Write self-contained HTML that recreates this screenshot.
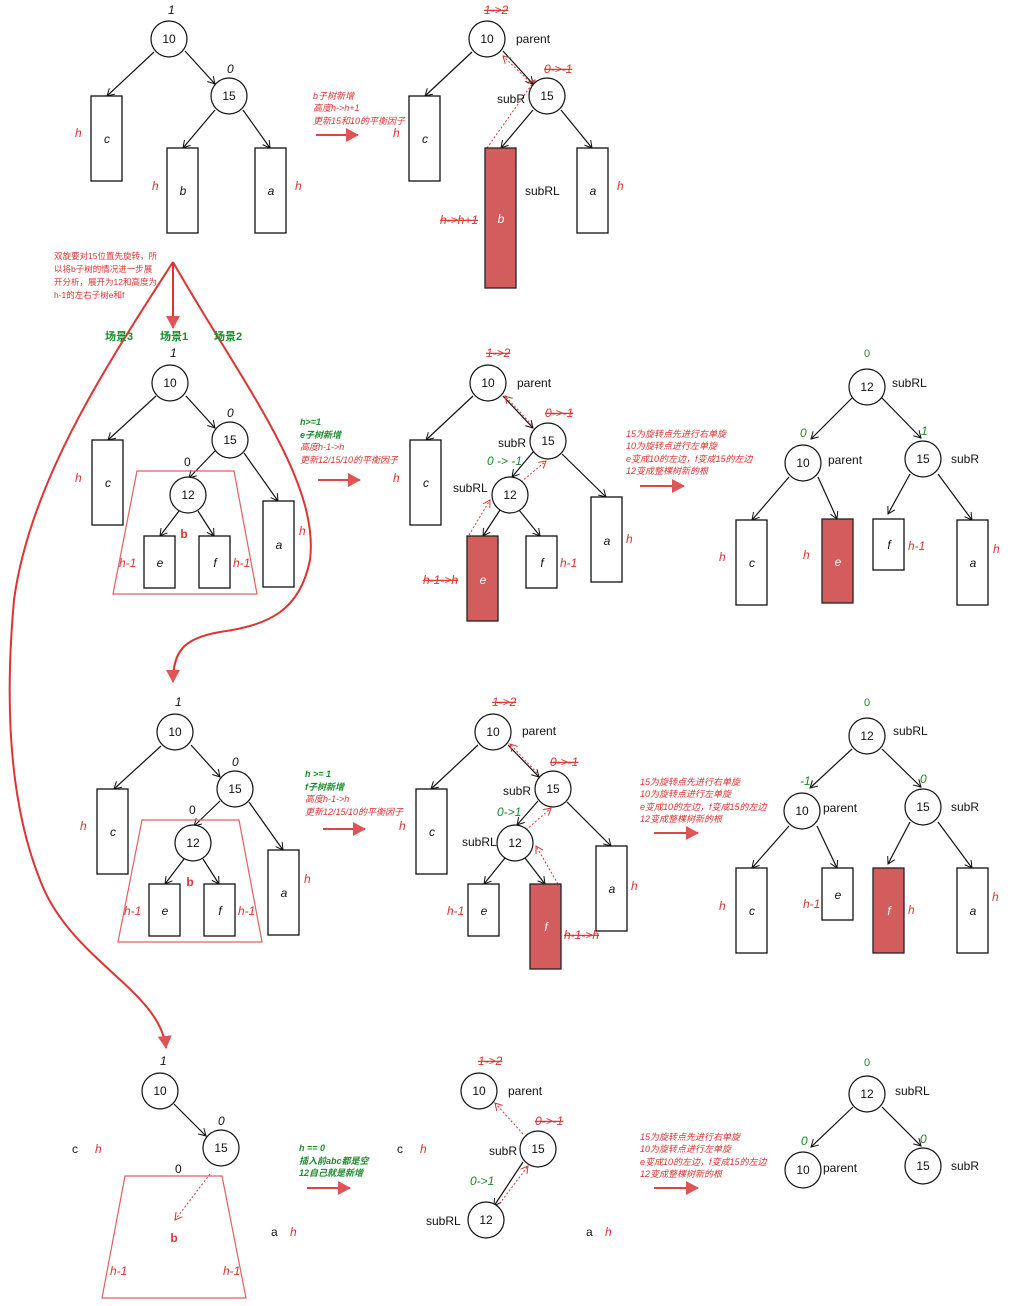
<!DOCTYPE html>
<html><head><meta charset="utf-8"><style>
html,body{margin:0;padding:0;background:#fff}
svg{display:block}
text{font-family:"Liberation Sans","Noto Sans CJK SC",sans-serif}
.n{font-size:12px;fill:#111;text-anchor:middle}
.l{font-size:12px;fill:#111}
.it{font-style:italic}
.r{fill:#d33}
.g{fill:#1a8a2a}
.s{font-size:9px;font-style:italic}
.lb{font-size:12px;font-style:italic;fill:#d33}
</style></head><body>
<svg width="1036" height="1306" viewBox="0 0 1036 1306" xmlns="http://www.w3.org/2000/svg">
<defs>
<marker id="a" markerWidth="10" markerHeight="10" refX="8" refY="5" orient="auto" markerUnits="userSpaceOnUse"><path d="M1,1 L8,5 L1,9" fill="none" stroke="#111" stroke-width="1"/></marker>
<marker id="ad" markerWidth="10" markerHeight="10" refX="8" refY="5" orient="auto" markerUnits="userSpaceOnUse"><path d="M1,1 L8,5 L1,9" fill="none" stroke="#d33" stroke-width="1"/></marker>
<marker id="big" markerWidth="14" markerHeight="14" refX="12" refY="7" orient="auto" markerUnits="userSpaceOnUse"><path d="M0,0 L13,7 L0,14 Z" fill="#d55"/></marker>
</defs>
<g stroke="#111" stroke-width="1.2" fill="none" marker-end="url(#a)">
<line x1="154" y1="52" x2="107" y2="96"/><line x1="185" y1="51" x2="215" y2="84"/>
<line x1="215" y1="110" x2="183" y2="148"/><line x1="243" y1="110" x2="270" y2="148"/>
<line x1="472" y1="52" x2="425" y2="96"/><line x1="503" y1="51" x2="533" y2="84"/>
<line x1="533" y1="110" x2="501" y2="148"/><line x1="561" y1="110" x2="592" y2="148"/>
<line x1="156" y1="396" x2="108" y2="440"/><line x1="186" y1="396" x2="215" y2="428"/>
<line x1="215" y1="451" x2="189" y2="478"/><line x1="244" y1="453" x2="278" y2="501"/>
<line x1="179" y1="511" x2="160" y2="536"/><line x1="198" y1="511" x2="214" y2="536"/>
<line x1="473" y1="396" x2="426" y2="440"/><line x1="503" y1="396" x2="533" y2="428"/>
<line x1="533" y1="452" x2="512" y2="477"/><line x1="562" y1="454" x2="606" y2="497"/>
<line x1="500" y1="510" x2="483" y2="536"/><line x1="519" y1="510" x2="540" y2="536"/>
<line x1="852" y1="398" x2="811" y2="439"/><line x1="882" y1="398" x2="921" y2="438"/>
<line x1="789" y1="477" x2="752" y2="520"/><line x1="818" y1="477" x2="837" y2="519"/>
<line x1="910" y1="474" x2="888" y2="514"/><line x1="938" y1="474" x2="972" y2="520"/>
<line x1="161" y1="746" x2="114" y2="789"/><line x1="191" y1="745" x2="220" y2="777"/>
<line x1="220" y1="801" x2="194" y2="826"/><line x1="249" y1="802" x2="283" y2="850"/>
<line x1="184" y1="859" x2="165" y2="884"/><line x1="203" y1="859" x2="219" y2="884"/>
<line x1="478" y1="745" x2="431" y2="789"/><line x1="508" y1="745" x2="539" y2="777"/>
<line x1="538" y1="801" x2="517" y2="825"/><line x1="567" y1="802" x2="611" y2="846"/>
<line x1="505" y1="858" x2="484" y2="884"/><line x1="525" y1="858" x2="545" y2="884"/>
<line x1="852" y1="749" x2="810" y2="788"/><line x1="882" y1="749" x2="921" y2="787"/>
<line x1="789" y1="826" x2="752" y2="868"/><line x1="817" y1="826" x2="837" y2="868"/>
<line x1="910" y1="822" x2="888" y2="864"/><line x1="938" y1="822" x2="972" y2="868"/>
<line x1="174" y1="1104" x2="206" y2="1136"/>
<line x1="523" y1="1162" x2="494" y2="1206"/>
<line x1="853" y1="1107" x2="811" y2="1147"/><line x1="882" y1="1107" x2="921" y2="1146"/>
</g>
<g stroke="#d33" stroke-width="1" stroke-dasharray="2,2" fill="none" marker-end="url(#ad)">
<line x1="530" y1="82" x2="503" y2="56"/><line x1="487" y1="148" x2="535" y2="80"/>
<line x1="532" y1="425" x2="505" y2="396"/><line x1="521" y1="482" x2="546" y2="461"/><line x1="469" y1="535" x2="490" y2="500"/>
<line x1="537" y1="773" x2="510" y2="744"/><line x1="526" y1="830" x2="551" y2="808"/><line x1="558" y1="884" x2="536" y2="846"/>
<line x1="210" y1="1174" x2="175" y2="1220"/>
<line x1="523" y1="1134" x2="495" y2="1103"/><line x1="497" y1="1207" x2="528" y2="1166"/>
</g>
<g fill="#fff" stroke="#111" stroke-width="1.2">
<circle cx="169" cy="39" r="18"/><circle cx="229" cy="96" r="18"/>
<circle cx="487" cy="39" r="18"/><circle cx="547" cy="96" r="18"/>
<circle cx="170" cy="383" r="18"/><circle cx="230" cy="440" r="18"/><circle cx="188" cy="495" r="18"/>
<circle cx="488" cy="383" r="18"/><circle cx="548" cy="441" r="18"/><circle cx="510" cy="495" r="18"/>
<circle cx="867" cy="387" r="18"/><circle cx="803" cy="463" r="18"/><circle cx="923" cy="459" r="18"/>
<circle cx="175" cy="732" r="18"/><circle cx="235" cy="789" r="18"/><circle cx="193" cy="843" r="18"/>
<circle cx="493" cy="732" r="18"/><circle cx="553" cy="789" r="18"/><circle cx="515" cy="843" r="18"/>
<circle cx="867" cy="736" r="18"/><circle cx="802" cy="811" r="18"/><circle cx="923" cy="807" r="18"/>
<circle cx="160" cy="1091" r="18"/><circle cx="221" cy="1148" r="18"/>
<circle cx="479" cy="1091" r="18"/><circle cx="538" cy="1149" r="18"/><circle cx="486" cy="1220" r="18"/>
<circle cx="867" cy="1094" r="18"/><circle cx="803" cy="1170" r="18"/><circle cx="923" cy="1166" r="18"/>
</g>
<g fill="#fff" stroke="#111" stroke-width="1.3">
<rect x="91" y="96" width="31" height="85"/><rect x="167" y="148" width="31" height="85"/><rect x="255" y="148" width="31" height="85"/>
<rect x="409" y="96" width="31" height="85"/><rect x="577" y="148" width="31" height="85"/>
<rect x="92" y="440" width="31" height="85"/><rect x="144" y="536" width="31" height="52"/><rect x="199" y="536" width="31" height="52"/><rect x="263" y="501" width="31" height="86"/>
<rect x="410" y="440" width="31" height="85"/><rect x="526" y="536" width="31" height="52"/><rect x="591" y="497" width="31" height="85"/>
<rect x="736" y="520" width="31" height="85"/><rect x="873" y="519" width="31" height="51"/><rect x="957" y="520" width="31" height="85"/>
<rect x="97" y="789" width="31" height="85"/><rect x="149" y="884" width="31" height="52"/><rect x="204" y="884" width="31" height="52"/><rect x="268" y="850" width="31" height="85"/>
<rect x="416" y="789" width="31" height="85"/><rect x="468" y="884" width="31" height="52"/><rect x="596" y="846" width="31" height="85"/>
<rect x="736" y="868" width="31" height="85"/><rect x="822" y="868" width="31" height="52"/><rect x="957" y="868" width="31" height="85"/>
</g>
<g fill="#d35c5c" stroke="#222" stroke-width="1.3">
<rect x="485" y="148" width="31" height="140"/>
<rect x="467" y="536" width="31" height="85"/>
<rect x="822" y="519" width="31" height="84"/>
<rect x="530" y="884" width="31" height="85"/>
<rect x="873" y="868" width="31" height="85"/>
</g>
<g fill="none" stroke="#e06060" stroke-width="1.2">
<polygon points="137,471 234,471 257,594 113,594"/>
<polygon points="142,820 239,820 262,942 118,942"/>
<polygon points="125,1176 222,1176 246,1298 102,1298"/>
</g>
<g stroke="#d33" stroke-width="2" fill="none" marker-end="url(#big)">
<line x1="173" y1="262" x2="173" y2="328"/>
<path d="M173,262 C240,380 320,480 310,560 C300,610 270,625 220,632 C185,638 173,650 173,682"/>
<path d="M173,262 C110,360 30,480 14,600 C5,700 8,800 40,880 C70,960 160,990 166,1048"/>
</g>
<g stroke="#d44" stroke-width="2" marker-end="url(#big)">
<line x1="316" y1="135" x2="358" y2="135"/>
<line x1="318" y1="480" x2="360" y2="480"/>
<line x1="640" y1="486" x2="684" y2="486"/>
<line x1="323" y1="829" x2="365" y2="829"/>
<line x1="654" y1="833" x2="698" y2="833"/>
<line x1="307" y1="1188" x2="350" y2="1188"/>
<line x1="654" y1="1188" x2="698" y2="1188"/>
</g>
<g class="n">
<text x="169" y="43">10</text><text x="229" y="100">15</text>
<text x="487" y="43">10</text><text x="547" y="100">15</text>
<text x="170" y="387">10</text><text x="230" y="444">15</text><text x="188" y="499">12</text>
<text x="488" y="387">10</text><text x="548" y="445">15</text><text x="510" y="499">12</text>
<text x="867" y="391">12</text><text x="803" y="467">10</text><text x="923" y="463">15</text>
<text x="175" y="736">10</text><text x="235" y="793">15</text><text x="193" y="847">12</text>
<text x="493" y="736">10</text><text x="553" y="793">15</text><text x="515" y="847">12</text>
<text x="867" y="740">12</text><text x="802" y="815">10</text><text x="923" y="811">15</text>
<text x="160" y="1095">10</text><text x="221" y="1152">15</text>
<text x="479" y="1095">10</text><text x="538" y="1153">15</text><text x="486" y="1224">12</text>
<text x="867" y="1098">12</text><text x="803" y="1174">10</text><text x="923" y="1170">15</text>
</g>
<g class="n it">
<text x="107" y="143">c</text><text x="183" y="195">b</text><text x="271" y="195">a</text>
<text x="425" y="143">c</text><text x="501" y="223" style="fill:#fff">b</text><text x="593" y="195">a</text>
<text x="108" y="487">c</text><text x="160" y="567">e</text><text x="215" y="567">f</text><text x="279" y="549">a</text>
<text x="426" y="487">c</text><text x="483" y="584" style="fill:#fff">e</text><text x="542" y="567">f</text><text x="607" y="545">a</text>
<text x="752" y="567">c</text><text x="838" y="566" style="fill:#fff">e</text><text x="889" y="549">f</text><text x="973" y="567">a</text>
<text x="113" y="836">c</text><text x="165" y="915">e</text><text x="220" y="915">f</text><text x="284" y="897">a</text>
<text x="432" y="836">c</text><text x="484" y="915">e</text><text x="546" y="931" style="fill:#fff">f</text><text x="612" y="893">a</text>
<text x="752" y="915">c</text><text x="838" y="899">e</text><text x="889" y="915" style="fill:#fff">f</text><text x="973" y="915">a</text>
</g>
<g class="l">
<text x="516" y="43">parent</text><text x="497" y="103">subR</text><text x="525" y="195">subRL</text>
<text x="517" y="387">parent</text><text x="498" y="447">subR</text><text x="453" y="492">subRL</text>
<text x="892" y="387">subRL</text><text x="828" y="464">parent</text><text x="951" y="463">subR</text>
<text x="522" y="735">parent</text><text x="503" y="795">subR</text><text x="462" y="846">subRL</text>
<text x="893" y="735">subRL</text><text x="823" y="812">parent</text><text x="951" y="811">subR</text>
<text x="508" y="1095">parent</text><text x="489" y="1155">subR</text><text x="426" y="1225">subRL</text>
<text x="895" y="1095">subRL</text><text x="823" y="1172">parent</text><text x="951" y="1170">subR</text>
<text x="72" y="1153">c</text><text x="397" y="1153">c</text><text x="271" y="1236">a</text><text x="586" y="1236">a</text>
<text x="184" y="466">0</text><text x="189" y="814">0</text><text x="175" y="1173">0</text>
</g>
<g class="l it">
<text x="168" y="14">1</text><text x="227" y="73">0</text>
<text x="170" y="357">1</text><text x="227" y="417">0</text>
<text x="175" y="706">1</text><text x="232" y="766">0</text>
<text x="160" y="1065">1</text><text x="218" y="1125">0</text>
</g>
<g class="lb">
<text x="75" y="137">h</text><text x="152" y="190">h</text><text x="295" y="190">h</text>
<text x="393" y="137">h</text><text x="617" y="190">h</text><text x="440" y="224" text-decoration="line-through">h->h+1</text>
<text x="484" y="14" text-decoration="line-through">1->2</text><text x="544" y="73" text-decoration="line-through">0->-1</text>
<text x="75" y="482">h</text><text x="119" y="567">h-1</text><text x="233" y="567">h-1</text><text x="299" y="535">h</text>
<text x="393" y="482">h</text><text x="486" y="357" text-decoration="line-through">1->2</text><text x="545" y="417" text-decoration="line-through">0->-1</text>
<text x="423" y="584" text-decoration="line-through">h-1->h</text><text x="560" y="567">h-1</text><text x="626" y="543">h</text>
<text x="719" y="561">h</text><text x="803" y="559">h</text><text x="908" y="550">h-1</text><text x="993" y="553">h</text>
<text x="80" y="830">h</text><text x="124" y="915">h-1</text><text x="238" y="915">h-1</text><text x="304" y="883">h</text>
<text x="399" y="830">h</text><text x="492" y="706" text-decoration="line-through">1->2</text><text x="550" y="766" text-decoration="line-through">0->-1</text>
<text x="447" y="915">h-1</text><text x="564" y="939" text-decoration="line-through">h-1->h</text><text x="631" y="890">h</text>
<text x="719" y="910">h</text><text x="803" y="908">h-1</text><text x="908" y="914">h</text><text x="992" y="901">h</text>
<text x="95" y="1153">h</text><text x="420" y="1153">h</text><text x="290" y="1236">h</text><text x="605" y="1236">h</text>
<text x="110" y="1275">h-1</text><text x="223" y="1275">h-1</text>
<text x="478" y="1065" text-decoration="line-through">1->2</text><text x="535" y="1125" text-decoration="line-through">0->-1</text>
</g>
<g class="lb g" style="fill:#1a8a2a">
<text x="487" y="465">0 -> -1</text><text x="497" y="816">0->1</text><text x="470" y="1185">0->1</text>
<text x="800" y="437">0</text><text x="921" y="435">1</text>
<text x="800" y="785">-1</text><text x="920" y="783">0</text>
<text x="801" y="1145">0</text><text x="920" y="1143">0</text>
</g>
<g style="font-size:11px;fill:#1a8a2a;text-anchor:middle">
<text x="867" y="357">0</text><text x="867" y="706">0</text><text x="867" y="1066">0</text>
</g>
<g style="font-size:11px;font-weight:bold;fill:#1a8a2a">
<text x="105" y="340">场景3</text><text x="160" y="340">场景1</text><text x="214" y="340">场景2</text>
</g>
<g style="font-size:12px;font-weight:bold;fill:#d33;text-anchor:middle">
<text x="184" y="538">b</text><text x="190" y="886">b</text><text x="174" y="1242">b</text>
</g>
<g class="s r">
<text x="313" y="99">b子树新增</text><text x="313" y="111">高度h->h+1</text><text x="313" y="124">更新15和10的平衡因子</text>
<text x="300" y="450">高度h-1->h</text><text x="300" y="463">更新12/15/10的平衡因子</text>
<text x="305" y="802">高度h-1->h</text><text x="305" y="815">更新12/15/10的平衡因子</text>
</g>
<g class="s g" style="fill:#1a8a2a;font-weight:bold">
<text x="300" y="425">h>=1</text><text x="300" y="438">e子树新增</text>
<text x="305" y="777">h >= 1</text><text x="305" y="790">f子树新增</text>
<text x="299" y="1151">h == 0</text><text x="299" y="1164">插入前abc都是空</text><text x="299" y="1176">12自己就是新增</text>
</g>
<g style="font-size:8.5px;fill:#d33">
<text x="54" y="259">双旋要对15位置先旋转，所</text><text x="54" y="272">以将b子树的情况进一步展</text><text x="54" y="285">开分析，展开为12和高度为</text><text x="54" y="298">h-1的左右子树e和f</text>
</g>
<g class="s r">
<text x="626" y="437">15为旋转点先进行右单旋</text><text x="626" y="449">10为旋转点进行左单旋</text><text x="626" y="462">e变成10的左边，f变成15的左边</text><text x="626" y="474">12变成整棵树新的根</text>
<text x="640" y="785">15为旋转点先进行右单旋</text><text x="640" y="797">10为旋转点进行左单旋</text><text x="640" y="810">e变成10的左边，f变成15的左边</text><text x="640" y="822">12变成整棵树新的根</text>
<text x="640" y="1140">15为旋转点先进行右单旋</text><text x="640" y="1152">10为旋转点进行左单旋</text><text x="640" y="1165">e变成10的左边，f变成15的左边</text><text x="640" y="1177">12变成整棵树新的根</text>
</g>
</svg>
</body></html>
